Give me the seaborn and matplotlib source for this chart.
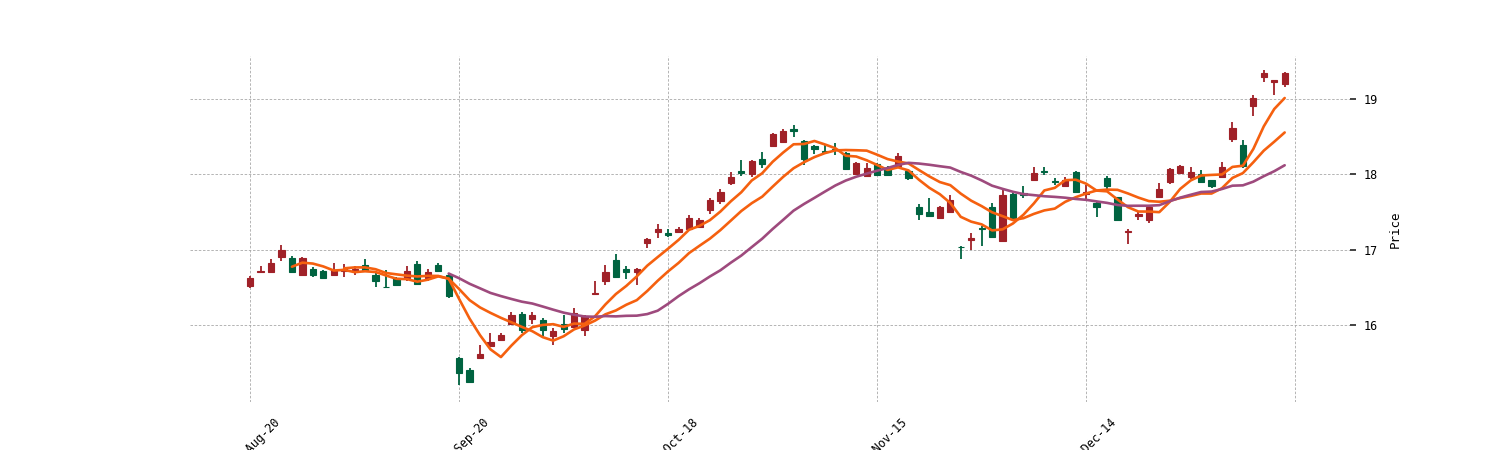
import numpy as np
import pandas as pd
import matplotlib
matplotlib.use("Agg")
import matplotlib.pyplot as plt
import seaborn as sns

# ---------------- data ----------------
opens = [16.52, 16.70, 16.71, 16.90, 16.89, 16.66, 16.74, 16.72, 16.67, 16.72,
         16.72, 16.80, 16.67, 16.51, 16.63, 16.62, 16.81, 16.62, 16.80, 16.67,
         15.57, 15.40, 15.56, 15.72, 15.80, 16.01, 16.15, 16.08, 16.07, 15.85,
         16.01, 15.97, 15.93, 16.41, 16.58, 16.86, 16.74, 16.71, 17.09, 17.24,
         17.22, 17.24, 17.28, 17.30, 17.53, 17.65, 17.89, 18.04, 18.00, 18.20,
         18.38, 18.43, 18.60, 18.44, 18.38, 18.31, 18.34, 18.28, 18.00, 17.98,
         18.14, 18.08, 18.11, 18.04, 17.57, 17.50, 17.42, 17.50, 17.04, 17.13,
         17.29, 17.56, 17.11, 17.74, 17.75, 17.93, 18.04, 17.91, 17.84, 18.03,
         17.74, 17.62, 17.95, 17.70, 17.23, 17.45, 17.40, 17.70, 17.90, 18.02,
         17.96, 18.01, 17.92, 17.97, 18.47, 18.39, 18.91, 19.29, 19.23, 19.20]
highs = [16.65, 16.79, 16.87, 17.06, 16.92, 16.90, 16.77, 16.73, 16.83, 16.81,
         16.78, 16.88, 16.72, 16.73, 16.64, 16.78, 16.85, 16.75, 16.83, 16.69,
         15.58, 15.43, 15.73, 15.89, 15.90, 16.18, 16.18, 16.17, 16.09, 15.96,
         16.13, 16.22, 16.13, 16.58, 16.80, 16.94, 16.78, 16.76, 17.16, 17.34,
         17.28, 17.30, 17.46, 17.42, 17.68, 17.81, 18.03, 18.19, 18.19, 18.29,
         18.55, 18.60, 18.66, 18.46, 18.39, 18.40, 18.41, 18.29, 18.16, 18.15,
         18.15, 18.11, 18.28, 18.06, 17.60, 17.69, 17.58, 17.72, 17.05, 17.22,
         17.31, 17.62, 17.79, 17.76, 17.84, 18.10, 18.10, 17.95, 17.96, 18.04,
         17.86, 17.64, 17.98, 17.70, 17.27, 17.50, 17.58, 17.88, 18.08, 18.12,
         18.10, 18.06, 17.93, 18.16, 18.69, 18.46, 19.05, 19.39, 19.25, 19.36]
lows = [16.49, 16.69, 16.70, 16.85, 16.69, 16.65, 16.64, 16.61, 16.66, 16.64,
        16.66, 16.71, 16.51, 16.49, 16.52, 16.59, 16.53, 16.59, 16.70, 16.36,
        15.20, 15.23, 15.55, 15.71, 15.79, 16.00, 15.90, 16.01, 15.85, 15.73,
        15.89, 15.96, 15.85, 16.41, 16.53, 16.63, 16.61, 16.53, 17.02, 17.15,
        17.17, 17.22, 17.26, 17.30, 17.47, 17.60, 17.86, 17.98, 17.97, 18.09,
        18.38, 18.41, 18.50, 18.12, 18.27, 18.27, 18.26, 18.06, 17.99, 17.97,
        17.98, 17.98, 18.10, 17.92, 17.40, 17.44, 17.42, 17.49, 16.87, 17.00,
        17.05, 17.16, 17.10, 17.39, 17.68, 17.92, 17.99, 17.86, 17.83, 17.75,
        17.64, 17.44, 17.81, 17.38, 17.08, 17.39, 17.35, 17.68, 17.87, 18.01,
        17.94, 17.89, 17.82, 17.96, 18.43, 18.08, 18.77, 19.23, 19.05, 19.16]
closes = [16.62, 16.72, 16.82, 17.00, 16.71, 16.89, 16.66, 16.63, 16.73, 16.75,
          16.74, 16.72, 16.58, 16.50, 16.53, 16.72, 16.55, 16.71, 16.72, 16.38,
          15.37, 15.25, 15.61, 15.78, 15.87, 16.13, 15.94, 16.14, 15.93, 15.92,
          15.95, 16.16, 16.12, 16.43, 16.71, 16.64, 16.70, 16.75, 17.14, 17.28,
          17.20, 17.28, 17.42, 17.40, 17.66, 17.77, 17.96, 18.02, 18.18, 18.14,
          18.53, 18.57, 18.57, 18.20, 18.34, 18.30, 18.32, 18.07, 18.15, 18.09,
          17.99, 17.99, 18.24, 17.95, 17.47, 17.45, 17.57, 17.66, 17.03, 17.15,
          17.27, 17.17, 17.73, 17.42, 17.73, 18.02, 18.03, 17.90, 17.93, 17.76,
          17.76, 17.57, 17.85, 17.39, 17.25, 17.47, 17.57, 17.81, 18.07, 18.11,
          18.03, 17.90, 17.85, 18.10, 18.61, 18.11, 19.01, 19.35, 19.25, 19.34]
mav_windows = [5, 10, 20]
tick_labels = ['2018-Aug-20', '2018-Sep-20', '2018-Oct-18', '2018-Nov-15', '2018-Dec-14', '']

# ---------------- styling ----------------
UP = '#A02128'
DOWN = '#006340'
MAV_COLORS = ['#F5600F', '#F5600F', '#9E4A7D']
FONT = ['DejaVu Sans Mono', 'DejaVu Sans']

sns.set_style('white')
plt.rcParams['font.family'] = FONT

df = pd.DataFrame({'Open': opens, 'High': highs, 'Low': lows, 'Close': closes})
df['idx'] = np.arange(len(df))
df['up'] = df['Close'] >= df['Open']

fig = plt.figure(figsize=(15, 4.5), dpi=100)
ax = fig.add_axes([0.1267, 0.1067, 0.7733, 0.769])

colors = np.where(df['up'], UP, DOWN)
# wicks
ax.vlines(df['idx'], df['Low'], df['High'], colors=colors, linewidth=1.3, zorder=2)
# bodies
body_bottom = np.minimum(df['Open'], df['Close'])
body_height = np.abs(df['Close'] - df['Open'])
ax.bar(df['idx'], body_height, bottom=body_bottom, width=0.6, color=colors,
       edgecolor=colors, linewidth=0.8, zorder=3)

# moving averages via seaborn
for w, c in zip(mav_windows, MAV_COLORS):
    ma = df['Close'].rolling(w).mean()
    sns.lineplot(x=df['idx'], y=ma, ax=ax, color=c, linewidth=1.9, zorder=4)

ax.set_xlim(-5.75, 105.25)
ax.set_ylim(14.98, 19.57)

# axes decoration
for s in ax.spines.values():
    s.set_visible(False)
ax.grid(True, linestyle=(0, (3, 2)), color='#a8a8a8', linewidth=0.6)
ax.set_axisbelow(True)

ax.set_xticks(np.arange(0, 101, 20))
ax.set_xticklabels(tick_labels, rotation=45, ha='center', fontsize=8.5)
ax.set_yticks([16, 17, 18, 19])
ax.yaxis.tick_right()
ax.yaxis.set_label_position('right')
ax.tick_params(axis='both', which='both', direction='out', length=4, width=1.2,
               color='#222222', labelcolor='black', labelsize=8.5, pad=6)
ax.set_xlabel('')
ax.set_ylabel('Price', fontsize=9, labelpad=8, color='black')

fig.savefig('out.png', dpi=100)
